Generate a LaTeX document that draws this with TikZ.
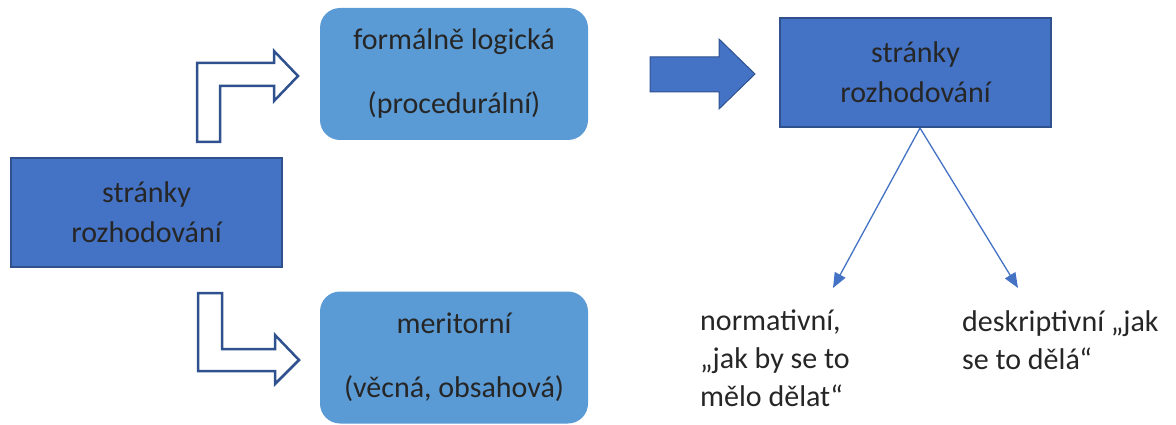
\documentclass[tikz,border=0pt]{standalone}
\usepackage{fontspec}
\setmainfont{Carlito}
\usetikzlibrary{arrows.meta,positioning}
\definecolor{bxA}{HTML}{4472C4}
\definecolor{bxB}{HTML}{5B9BD5}
\definecolor{lnA}{HTML}{2F528F}
\definecolor{txA}{HTML}{262626}

\begin{document}
\begin{tikzpicture}[x=1pt,y=-1pt,
  every node/.style={font=\fontsize{30}{37}\selectfont,text=txA},
  darkbox/.style={draw=lnA,line width=2pt,fill=bxA,minimum width=271pt,minimum height=109pt,align=center,inner sep=0pt},
  softbox/.style={fill=bxB,rounded corners=20pt,minimum width=268pt,minimum height=132pt,align=center,inner sep=0pt},
  plain/.style={align=left,anchor=north west,inner sep=0pt},
  thin/.style={bxA,line width=1.3pt,-{Triangle[length=15pt,width=12pt]}}]
\useasboundingbox (0,0) rectangle (1176,425);
% boxes
\node[darkbox] (side) at (146.5,212.5) {stránky\\[3pt]rozhodování};
\node[softbox] (formal) at (454,74) {formálně logická\\[27pt](procedurální)};
\node[softbox] (merit) at (454,357.5) {meritorní\\[27pt](věcná, obsahová)};
\node[darkbox] (aspect) at (915.5,72.5) {stránky\\[3pt]rozhodování};
% outline arrows
\draw[lnA,line width=2.5pt,fill=white,line join=miter]
  (197,142) -- (197,63) -- (274,63) -- (274,51) -- (298,76) -- (274,101) -- (274,86) -- (220,86) -- (220,142) -- cycle;
\draw[lnA,line width=2.5pt,fill=white,line join=miter]
  (198,293) -- (198,371) -- (275,371) -- (275,384) -- (299,360) -- (275,335) -- (275,349) -- (222,349) -- (222,293) -- cycle;
% block arrow
\draw[lnA,line width=1pt,fill=bxA]
  (650,57) -- (719,57) -- (719,39) -- (755,74) -- (719,109) -- (719,92) -- (650,92) -- cycle;
% lower texts
\node[plain] (norm) at (700,310) {normativní,\\[1pt]„jak by se to\\[1pt]mělo dělat“};
\node[plain] (descr) at (962,310) {deskriptivní „jak\\[1pt]se to dělá“};
\coordinate (normtip) at (833,288);
\coordinate (descrtip) at (1018,288);
\draw[thin] ([xshift=4.5pt]aspect.south) -- (normtip);
\draw[thin] ([xshift=4.5pt]aspect.south) -- (descrtip);
\end{tikzpicture}
\end{document}
